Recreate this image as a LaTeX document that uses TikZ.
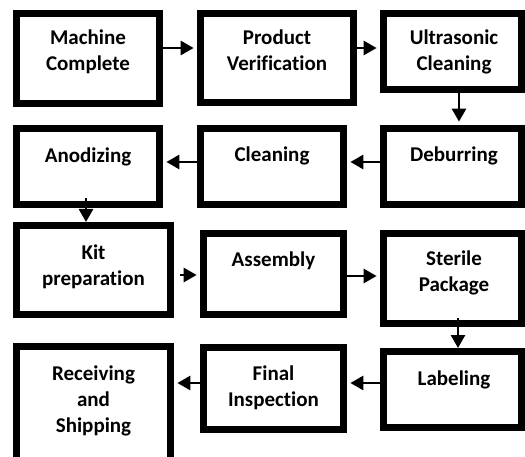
\documentclass[tikz,border=0pt]{standalone}
\usepackage{fontspec}
\setmainfont[Ligatures=NoCommon]{Carlito}
\usetikzlibrary{arrows.meta}
\pgfdeclarelayer{background}
\pgfsetlayers{background,main}
\begin{document}
\begin{tikzpicture}[x=1pt,y=-1pt,
  box/.style={draw=black,line width=6.7pt,inner sep=0pt,fill=none},
  lbl/.style={font=\bfseries\fontsize{21}{26}\selectfont,align=center,anchor=base,inner sep=0pt},
  arr/.style={line width=2.7pt,-{Triangle[length=13pt,width=14pt]}},
]
\useasboundingbox (0,0) rectangle (525,457);
\clip (0,0) rectangle (525,457);
% box helper: outer L,T,R,B
\newcommand\mybox[5]{%
  \node[box,minimum width={#4-#2-6.7pt},minimum height={#5-#3-6.7pt}] (#1) at ({(#2+#4)/2},{(#3+#5)/2}) {};}
\mybox{mc}{13}{10}{163}{107}
\mybox{pv}{197}{10}{357}{106}
\mybox{uc}{380}{10}{525}{93}
\mybox{db}{380}{125}{525}{208}
\mybox{cl}{197}{125}{347}{208}
\mybox{an}{13}{125}{163}{208}
\mybox{kp}{13}{222}{174}{318}
\mybox{as}{200}{230}{347}{318}
\mybox{sp}{380}{230}{525}{327}
\mybox{lb}{380}{348}{525}{431}
\mybox{fi}{200}{344}{347}{433}
\mybox{rs}{13}{343}{174}{475}

% anchor=base is the baseline of the last line
\node[lbl] (tmc) at (mc.center |- 0,71) {Machine\\Complete};
\node[lbl] (tpv) at (pv.center |- 0,71) {Product\\Verification};
\node[lbl] (tuc) at (454,71) {Ultrasonic\\Cleaning};
\node[lbl] (tdb) at (454,162) {Deburring};
\node[lbl] (tcl) at (cl.center |- 0,162) {Cleaning};
\node[lbl] (tan) at (an.center |- 0,163) {Anodizing};
\node[lbl] (tkp) at (kp.center |- 0,286) {Kit\\preparation};
\node[lbl] (tas) at (as.center |- 0,266) {Assembly};
\node[lbl] (tsp) at (454,291) {Sterile\\Package};
\node[lbl] (tlb) at (454,385) {Labeling};
\node[lbl] (tfi) at (fi.center |- 0,406) {Final\\Inspection};
\node[lbl] (trs) at (rs.center |- 0,432) {Receiving\\and\\Shipping};

\begin{pgfonlayer}{background}
\draw[arr,shorten >=3.35pt] (mc.east |- 0,48) -- (pv.west |- 0,48);
\draw[arr,shorten >=3.35pt] (pv.east |- 0,48) -- (uc.west |- 0,48);
\draw[arr,shorten >=3.35pt] (uc.south -| 459,0) -- (db.north -| 459,0);
\draw[arr,shorten >=3.35pt] (db.west |- 0,162) -- (cl.east |- 0,162);
\draw[arr,shorten >=3.35pt] (cl.west |- 0,162) -- (an.east |- 0,162);
\draw[arr,shorten <=-9.65pt] (an.south -| 86,0) -- (kp.north -| 86,0);
\draw[arr,shorten <=6.35pt,shorten >=3.35pt] (kp.east |- 0,275) -- (as.west |- 0,275);
\draw[arr,shorten >=3.35pt] (as.east |- 0,276) -- (sp.west |- 0,276);
\draw[arr,shorten <=-8.65pt] (sp.south -| 458,0) -- (lb.north -| 458,0);
\draw[arr,shorten >=3.35pt] (lb.west |- 0,383) -- (fi.east |- 0,383);
\draw[arr,shorten >=3.35pt] (fi.west |- 0,383) -- (rs.east |- 0,383);
\end{pgfonlayer}
\end{tikzpicture}
\end{document}
